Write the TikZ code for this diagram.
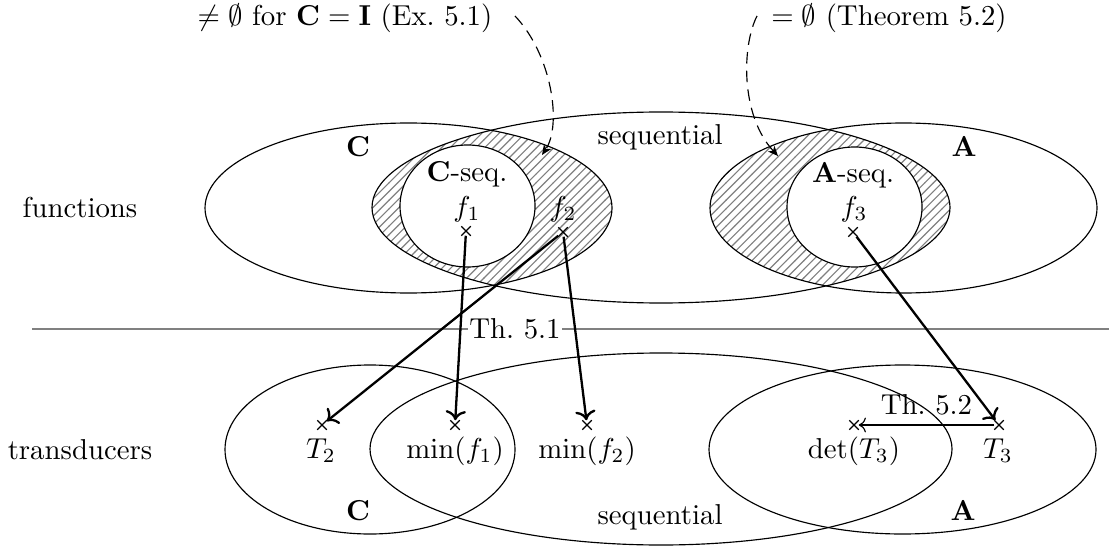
\documentclass[tikz,border=0pt]{standalone}
\usetikzlibrary{patterns,shapes.misc,arrows.meta}
\begin{document}
\begin{tikzpicture}[x=0.3472pt,y=-0.3472pt,
  xmark/.style={draw,shape=cross out,minimum size=3.3pt,inner sep=0pt,outer sep=0pt,line width=0.4pt},
  lbl/.style={inner sep=0pt,anchor=base},
  maparrow/.style={thick,->},
  pointer/.style={line width=0.4pt,dash pattern=on 4pt off 2.5pt,-{Stealth[length=3.5pt,width=3pt,inset=1pt]}},
  hatch/.style={pattern=north east lines,pattern color=gray},
  setline/.style={line width=0.4pt}
]
\useasboundingbox (0,0) rectangle (1109,546);

% hatched regions (top)
\begin{scope}
  \clip (408.5,208) ellipse [x radius=203.5,y radius=85];
  \fill[hatch] (661,207.5) ellipse [x radius=289,y radius=95.5];
\end{scope}
\begin{scope}
  \clip (903.5,208) ellipse [x radius=193.5,y radius=85];
  \fill[hatch] (661,207.5) ellipse [x radius=289,y radius=95.5];
\end{scope}
\filldraw[setline,fill=white] (467.5,206) ellipse [x radius=67.5,y radius=61];
\filldraw[setline,fill=white] (854.5,207) ellipse [x radius=67.5,y radius=60];

% top ellipses
\draw[setline] (408.5,208) ellipse [x radius=203.5,y radius=85];
\draw[setline] (661,207.5) ellipse [x radius=289,y radius=95.5];
\draw[setline] (903.5,208) ellipse [x radius=193.5,y radius=85];

% bottom ellipses
\draw[setline] (370,449.5) ellipse [x radius=145,y radius=84.5];
\draw[setline] (661,449) ellipse [x radius=291,y radius=96];
\draw[setline] (902.5,449.5) ellipse [x radius=193.5,y radius=84.5];

% separator
\coordinate (sepL) at (32,329);
\coordinate (sepR) at (1109,329);
\draw[gray,thick] (sepL) -- (sepR);
\node[fill=white,inner xsep=0.5pt,inner ysep=1pt] (th1) at (515,329) {Th.\ 5.1};

% row labels
\node[lbl] (functions) at (80,218) {functions};
\node[lbl] (transducers) at (80,459) {transducers};

% top labels
\node[lbl] (ex) at (345,26) {$\neq\emptyset$ for $\mathbf{C}=\mathbf{I}$ (Ex.~5.1)};
\node[lbl] (thm52) at (889,26) {$=\emptyset$ (Theorem 5.2)};
\node[lbl] (Ctop) at (358,157) {$\mathbf{C}$};
\node[lbl] (seqtop) at (660,145) {sequential};
\node[lbl] (Atop) at (964,157) {$\mathbf{A}$};
\node[lbl] (Cseq) at (467,182) {$\mathbf{C}$-seq.};
\node[lbl] (Aseq) at (853,183) {$\mathbf{A}$-seq.};
\node[inner sep=0pt] (f1l) at (467,209) {$f_1$};
\node[inner sep=0pt] (f2l) at (563,209) {$f_2$};
\node[inner sep=0pt] (f3l) at (854,209) {$f_3$};

% bottom labels
\node[lbl] (Cbot) at (358,520) {$\mathbf{C}$};
\node[lbl] (seqbot) at (660,524) {sequential};
\node[lbl] (Abot) at (963,520) {$\mathbf{A}$};
\node[lbl] (t2l) at (321,458.5) {$T_2$};
\node[lbl] (m1l) at (455,458.5) {$\min(f_1)$};
\node[lbl] (m2l) at (587,458.5) {$\min(f_2)$};
\node[lbl] (d3l) at (854,458.5) {$\det(T_3)$};
\node[lbl] (t3l) at (998,458.5) {$T_3$};

% crosses
\node[xmark] (f1) at (466,231) {};
\node[xmark] (f2) at (563,232) {};
\node[xmark] (f3) at (853,232) {};
\node[xmark] (t2) at (322,425) {};
\node[xmark] (m1) at (455,425) {};
\node[xmark] (m2) at (587,425) {};
\node[xmark] (d3) at (854,425) {};
\node[xmark] (t3) at (999,425) {};

% maps
\draw[maparrow] (f1) -- (m1);
\draw[maparrow] (f2) -- (t2);
\draw[maparrow] (f2) -- (m2);
\draw[maparrow] (f3) -- (t3);
\draw[->,setline] (t3) -- node[above] (th2) {Th.\ 5.2} (d3);

% dashed pointers
\coordinate (d1s) at (515,16);
\coordinate (d1e) at (542,155);
\coordinate (d2s) at (757,16);
\coordinate (d2e) at (778,156);
\draw[pointer] (d1s) .. controls (552,55) and (562,125) .. (d1e);
\draw[pointer] (d2s) .. controls (742,45) and (740,115) .. (d2e);
\end{tikzpicture}
\end{document}
